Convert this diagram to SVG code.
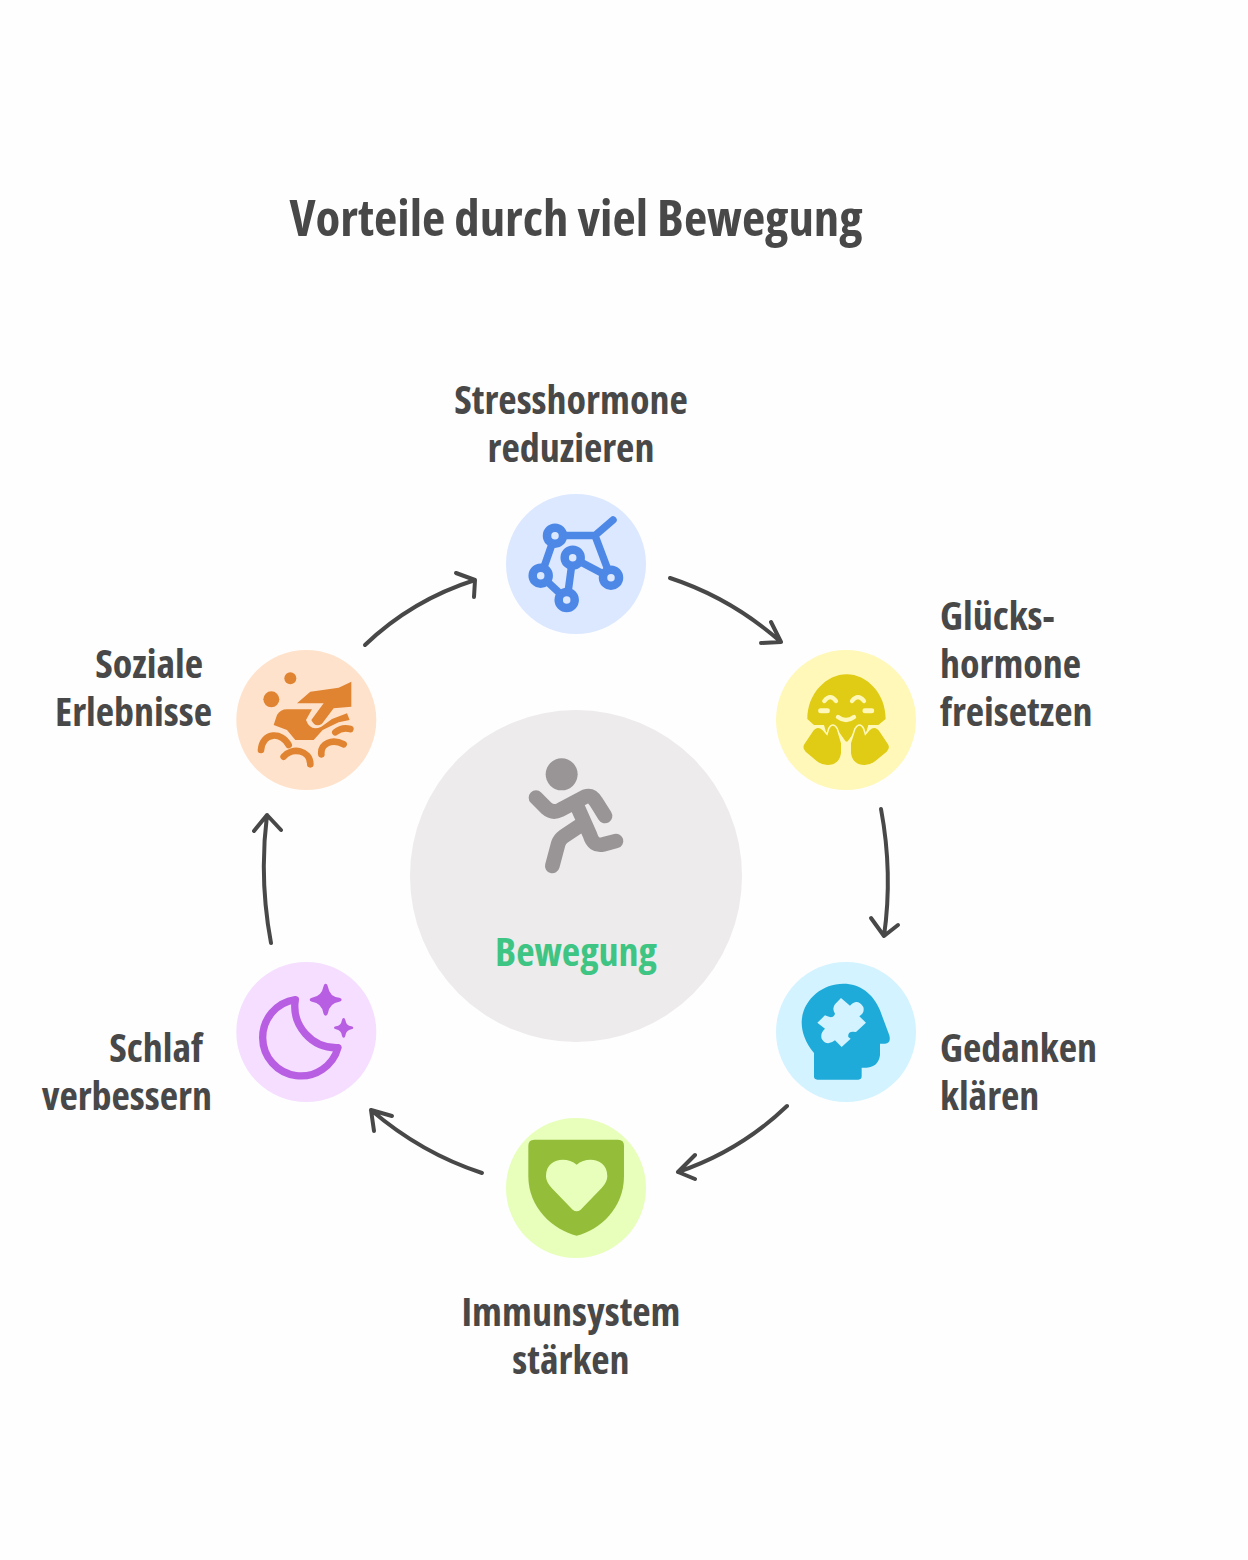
<svg xmlns="http://www.w3.org/2000/svg" width="1248" height="1560" viewBox="0 0 1248 1560">
<style>
text{font-family:"Open Sans","Noto Sans","Liberation Sans",sans-serif;font-weight:700;font-stretch:75%;fill:#484848;font-size:40px}
.t{font-size:50.8px}
.c{text-anchor:middle}
.e{text-anchor:end}
.a{fill:none;stroke:#484848;stroke-width:4;stroke-linecap:round;stroke-linejoin:round}
.s{fill:none;stroke-linecap:round;stroke-linejoin:round}
</style>
<rect width="1248" height="1560" fill="#fefefe"/>
<text id="title" class="t" x="576" y="236" text-anchor="middle">Vorteile durch viel Bewegung</text>
<g id="connectors">
<path class="a" d="M670 578Q731 598 781 642M761 643L781 642L771 622"/>
<path class="a" d="M881 809Q893 873 884 936M871 918L884 936L898 925"/>
<path class="a" d="M787 1106Q740 1151 678 1172M695 1155L678 1172L695 1179"/>
<path class="a" d="M482 1173Q421 1153 371 1110M392 1116L371 1110L374 1131"/>
<path class="a" d="M271 943Q259 879 267 815M254 831L267 815L281 830"/>
<path class="a" d="M365 645Q412 600 475 580M456 573L475 580L474 597"/>
</g>
<g id="center">
<circle cx="576" cy="876" r="166" fill="#edebec"/>
<g transform="translate(510 745) scale(.3333)">
<circle cx="155" cy="88" r="48" fill="#999596"/>
<path class="s" stroke="#999596" stroke-width="44" d="M78 158L110 190Q128 206 150 195L225 155Q245 148 258 170L285 213M200 180L240 270Q250 305 280 298L318 288M205 245L160 275Q150 282 145 295L127 363"/>
</g>
<text class="c" x="576" y="966" style="fill:#3ec584">Bewegung</text>
</g>
<g id="node-stress">
<circle cx="576" cy="564" r="70" fill="#dbe8ff"/>
<path class="s" stroke="#4e88e7" stroke-width="7.5" d="M555 535.5H595L611 578M595 535.5L613 520M555 535.5L541 575.7L567 600L572.7 557.7L611 578"/>
<g fill="#dbe8ff" stroke="#4e88e7" stroke-width="8.5">
<circle cx="555" cy="535.7" r="8"/><circle cx="540.7" cy="575.7" r="8"/><circle cx="566.7" cy="600" r="8"/><circle cx="572.7" cy="557.7" r="8"/><circle cx="611" cy="577.7" r="8"/>
</g>
<text class="c" x="571" y="414">Stresshormone</text>
<text class="c" x="571" y="462">reduzieren</text>
</g>
<g id="node-glueck">
<circle cx="846" cy="720" r="70" fill="#fff8b8"/>
<g transform="translate(770 645) scale(.3333)">
<path fill="#e0cb15" d="M112 222C112 145 170 88 230 88C290 88 347 145 347 222L325 240L295 240L285 275L268 240L236 285Q230 296 224 285L192 240L172 275L162 240L132 240Z"/>
<g fill="#e0cb15" stroke="#fff8b8" stroke-width="9" paint-order="stroke">
<path d="M103 298L128 260Q142 240 158 256L172 272L178 252Q188 232 200 252L213 295V325Q208 360 172 360Q155 360 140 348L107 320Q96 310 103 298Z"/>
<path d="M354 298L329 260Q315 240 299 256L285 272L279 252Q269 232 257 252L243 295V325Q248 360 284 360Q301 360 316 348L350 320Q361 310 354 298Z"/>
</g>
<g class="s" stroke="#fff8b8" fill="none">
<path stroke-width="13" d="M163 168Q181 145 198 168M246 168Q264 145 282 168" />
<path stroke-width="13" d="M204 216Q228 234 252 216"/>
<path stroke-width="15" d="M152 197H172M285 197H305"/>
</g>
</g>
<text x="940" y="630">Glücks-</text>
<text x="940" y="678">hormone</text>
<text x="940" y="726">freisetzen</text>
</g>
<g id="node-gedanken">
<circle cx="846" cy="1032" r="70" fill="#d2f3ff"/>
<g transform="translate(770 957) scale(.3333)">
<path fill="#1eabda" d="M132 288C105 255 95 225 95 195C97 130 155 80 220 80C270 80 310 110 330 160L358 235Q364 260 345 260H330V295Q325 330 290 332H275V358Q275 368 265 368H142Q132 368 132 358Z"/>
<path fill="#d2f3ff" d="M213 123L240 146Q262 122 280 150Q285 168 268 178L288 197L258 225Q232 220 235 240L242 245L215 270L195 250Q170 270 155 245Q150 228 165 215L142 197L165 175Q190 188 195 170Q185 155 195 142Z"/>
</g>
<text x="940" y="1062">Gedanken</text>
<text x="940" y="1110">klären</text>
</g>
<g id="node-immun">
<circle cx="576" cy="1188" r="70" fill="#e7ffbb"/>
<g transform="translate(500 1113) scale(.3333)">
<path fill="#94bd39" d="M85 98Q85 80 103 80H354Q372 80 372 98V190C372 285 300 352 230 368C160 352 85 285 85 190Z"/>
<path fill="#e7ffbb" d="M230 155C260 130 322 135 322 190Q322 207 305 225L242 290Q230 300 218 290L155 225Q138 207 138 190C138 135 200 130 230 155Z"/>
</g>
<text class="c" x="571" y="1326">Immunsystem</text>
<text class="c" x="571" y="1374">stärken</text>
</g>
<g id="node-schlaf">
<circle cx="306.3" cy="1032" r="70" fill="#f5deff"/>
<g transform="translate(232 957) scale(.3333)">
<path class="s" stroke="#b75ee3" stroke-width="22" d="M190 128A115 115 0 1 0 318 272A125 125 0 0 1 190 128Z"/>
<path fill="#b75ee3" d="M281 80Q286 80 288 90Q293 120 322 122Q329 124 329 128Q329 132 322 134Q293 138 288 168Q286 176 281 176Q276 176 274 168Q269 138 240 134Q233 132 233 128Q233 124 240 122Q269 118 274 90Q276 80 281 80Z"/>
<path fill="#b75ee3" d="M335 183Q339 183 340 189Q343 206 358 208Q364 209 364 212Q364 216 358 217Q343 219 340 236Q339 242 335 242Q331 242 330 236Q327 219 312 217Q306 216 306 212Q306 209 312 208Q327 206 330 189Q331 183 335 183Z"/>
</g>
<text class="e" x="203" y="1062">Schlaf</text>
<text class="e" x="212" y="1110">verbessern</text>
</g>
<g id="node-sozial">
<circle cx="306.3" cy="720" r="70" fill="#ffe2cb"/>
<g transform="translate(232 645) scale(.3333)">
<g fill="#e08431">
<circle cx="175" cy="100" r="18"/><circle cx="118" cy="163" r="24"/>
<path d="M195 175L235 140L320 128L358 110V185L305 190L270 236Q250 250 238 225L275 175Z"/>
<path d="M125 240L135 210Q145 193 165 193H240L222 225Q235 260 268 245L300 222L345 205L353 225L320 232L272 255L245 285H190L165 255Z"/>
</g>
<g class="s" stroke="#e08431" stroke-width="20">
<path d="M87 315C92 260 150 260 170 300M155 335C180 305 235 315 235 358M268 328C265 295 300 280 335 298M310 262Q330 245 355 252"/>
</g>
</g>
<text class="e" x="203" y="678">Soziale</text>
<text class="e" x="212" y="726">Erlebnisse</text>
</g>
</svg>
